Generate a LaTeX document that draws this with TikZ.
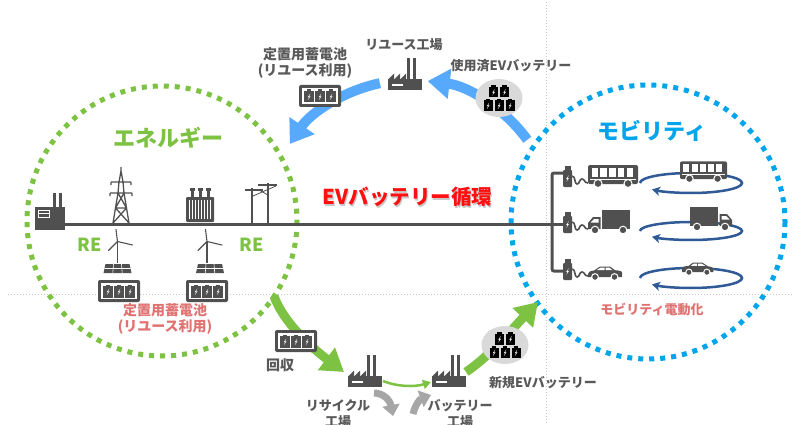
\documentclass[tikz,border=0pt]{standalone}
\usepackage{fontspec}
\setmainfont{Noto Sans CJK JP}
\usetikzlibrary{arrows.meta}

\definecolor{icon}{HTML}{505050}
\definecolor{enegreen}{HTML}{7DC242}
\definecolor{mobblue}{HTML}{00A5EB}
\definecolor{flowblue}{HTML}{57A9FB}
\definecolor{orbitblue}{HTML}{2F5A96}
\definecolor{labelgray}{HTML}{595959}
\definecolor{pinklabel}{HTML}{E07272}
\definecolor{guide}{HTML}{C8C8C8}
\definecolor{disc}{HTML}{D9D9D9}
\definecolor{recgray}{HTML}{A6A6A6}
\definecolor{cyclered}{HTML}{FF1010}

\tikzset{
  % small white lightning glyph
  bolt/.pic={\fill[white] (1.3,-3.2) -- (-1.3,0.4) -- (0.1,0.4) -- (-1.1,3.2) -- (1.5,-0.5) -- (0.1,-0.5) -- cycle;},
  % single black battery cell
  cell/.pic={
    \fill[black] (-4.5,-4.5) rectangle (4.5,6);
    \fill[black] (-2.2,-6.3) rectangle (2.2,-4.5);
    \pic at (0,0.8) {bolt};
  },
  % five cells stacked 2 + 3
  stack/.pic={
    \foreach \cx/\cy in {-5.5/-6.5, 5.5/-6.5, -11/7, 0/7, 11/7} \pic at (\cx,\cy) {cell};
  },
  % stationary battery pack with three cells
  pack/.pic={
    \fill[icon, rounded corners=2pt] (-21,-11) rectangle (21,11);
    \fill[white] (-18,-8) rectangle (18,8);
    \foreach \x in {-11,0,11} {
      \fill[icon] (\x-4.6,-5) rectangle (\x+4.6,6.5);
      \fill[icon] (\x-2,-6.5) rectangle (\x+2,-5);
      \pic at (\x,0.8) {bolt};
    }
  },
  % factory with sawtooth roof, origin bottom-left
  factory/.pic={
    \fill[icon] (0,0) rectangle (34,-11);
    \foreach \i in {0,1,2} \fill[icon] (\i*6,-10.5) -- (\i*6+6,-16.5) -- (\i*6+6,-10.5) -- cycle;
    \fill[icon] (19,-10.5) rectangle (22,-32);
    \fill[icon] (25,-10.5) rectangle (28,-32);
    \fill[white] (4,-6) rectangle (15,-4);
  },
  % power plant, origin bottom-left
  plant/.pic={
    \fill[icon] (0,0) rectangle (30,-23);
    \fill[icon] (18,-22) rectangle (21,-37);
    \fill[icon] (24,-22) rectangle (27,-37);
    \draw[white, line width=0.8pt] (3,-20) rectangle (14,-13) (3,-16.5) -- (14,-16.5);
  },
  % lattice transmission tower, origin at base centre
  tower/.pic={
    \draw[icon, line width=1.3pt, line join=round]
      (-8,0) -- (-3,-30) -- (-2,-41) -- (0,-52) -- (2,-41) -- (3,-30) -- (8,0)
      (0,-52) -- (0,-56)
      (-11,-30) -- (11,-30) (-10,-41) -- (10,-41)
      (-11,-30) -- (-11,-27) (11,-30) -- (11,-27) (-10,-41) -- (-10,-38) (10,-41) -- (10,-38)
      (-8,0) -- (5.5,-15) (8,0) -- (-5.5,-15) (-5.5,-15) -- (5.5,-15)
      (-5.5,-15) -- (3,-30) (5.5,-15) -- (-3,-30);
  },
  % oil transformer, origin at base centre
  transformer/.pic={
    \foreach \x in {-8,0,8} {
      \fill[icon] (\x-1.5,-33) rectangle (\x+1.5,-25);
      \fill[icon] (\x-2.5,-35) rectangle (\x+2.5,-32.5);
    }
    \fill[icon, rounded corners=1pt] (-14,-1) rectangle (14,-26);
    \foreach \x in {-11,-8,...,11} \draw[white, line width=0.8pt] (\x,-4) -- (\x,-23);
  },
  % wind turbine, origin at hub
  turbine/.pic={
    \draw[icon, line width=1.4pt] (0,0) -- (0,21);
    \draw[icon, line width=1.1pt, line cap=round] (0,0) -- (-1.5,-12) (0,0) -- (-9,9) (0,0) -- (15,3.5);
  },
  % solar panel, origin top centre
  panel/.pic={
    \fill[icon] (-12,0) -- (12,0) -- (14,9) -- (-14,9) -- cycle;
    \draw[white, line width=0.6pt] (-13,4.5) -- (13,4.5) (-4,0) -- (-4.7,9) (4,0) -- (4.7,9);
  },
  % charging post with cable, origin bottom-left
  station/.pic={
    \fill[icon, rounded corners=1pt] (0,0) rectangle (9,-17);
    \fill[icon] (1.5,-16) rectangle (7.5,-21);
    \pic at (4.5,-8.5) {bolt};
    \draw[icon, line width=1.6pt] (9,-11) .. controls (13,-11) and (11,-3) .. (14,-3)
      .. controls (17,-3) and (16,-8) .. (19,-8) .. controls (22,-8) and (21,-4) .. (25,-4);
  },
  % vehicles, origin bottom-left, facing right
  bus/.pic={
    \fill[icon, rounded corners=2pt] (0,-3) rectangle (50,-22);
    \foreach \i in {0,...,4} \fill[white] (3.5+\i*8.8,-19.5) rectangle (10+\i*8.8,-10.5);
    \fill[white] (2,-8) rectangle (48,-7);
    \fill[icon, draw=white, line width=1pt] (10,-3.5) circle[radius=4];
    \fill[icon, draw=white, line width=1pt] (40,-3.5) circle[radius=4];
  },
  truck/.pic={
    \fill[icon] (0,-5) rectangle (28,-24);
    \fill[icon] (29.5,-5) -- (29.5,-17) -- (37,-17) -- (42,-11) -- (42,-5) -- cycle;
    \fill[white] (31.5,-15) -- (36,-15) -- (39.5,-11.5) -- (31.5,-11.5) -- cycle;
    \fill[icon, draw=white, line width=1pt] (7,-4) circle[radius=3.8];
    \fill[icon, draw=white, line width=1pt] (35,-4) circle[radius=3.8];
  },
  car/.pic={
    \fill[icon] (0,-3) -- (0,-7.5) .. controls (0,-9) and (3,-9.5) .. (7,-9.8) -- (12,-13.5) -- (22,-13.5)
      -- (28,-9.5) .. controls (32,-9) and (34,-8) .. (34,-6) -- (34,-3) -- cycle;
    \fill[white] (12.5,-12.3) -- (16.5,-12.3) -- (16.5,-9.8) -- (9.5,-9.8) -- cycle;
    \fill[white] (17.5,-12.3) -- (21.5,-12.3) -- (25.5,-9.8) -- (17.5,-9.8) -- cycle;
    \fill[icon, draw=white, line width=1pt] (7.5,-3) circle[radius=3.4];
    \fill[icon, draw=white, line width=1pt] (27,-3) circle[radius=3.4];
  },
  ring/.style={line width=5pt, dash pattern=on 5pt off 6pt},
  guideline/.style={guide, line width=1pt, dash pattern=on 1pt off 2pt},
  gridline/.style={icon, line width=3pt},
  orbit/.style={orbitblue, line width=2.5pt, -{Stealth[length=8pt,width=9pt,inset=2pt]}},
  bluearrow/.style={flowblue, line width=10pt, -{Triangle[length=22pt,width=29pt]}},
  greenarrow/.style={enegreen, line width=9pt, -{Triangle[length=22pt,width=27pt]}},
  grayarrow/.style={recgray, line width=7pt, -{Triangle[length=11pt,width=17pt]}},
  graylbl/.style={text=labelgray, font=\bfseries\fontsize{13}{16}\selectfont, align=center, inner sep=0pt},
  pinklbl/.style={text=pinklabel, font=\bfseries\fontsize{13}{16}\selectfont, align=center, inner sep=0pt},
  titletext/.style={font=\bfseries\fontsize{22}{26}\selectfont, inner sep=0pt},
}

\begin{document}
\begin{tikzpicture}[x=1pt,y=-1pt]
\fill[white] (0,0) rectangle (792,425);
\useasboundingbox (0,0) rectangle (792,425);

% layout guides
\draw[guideline] (8,294) -- (792,294);
\draw[guideline] (546,2) -- (546,425);

% the two domains
\draw[ring, enegreen] (162,221) circle[radius=135];
\draw[ring, mobblue] (648,222) circle[radius=137];

% power grid line and the branch to the chargers
\coordinate (gridW) at (60,224);
\coordinate (gridE) at (552,224);
\coordinate (brTop) at (563,173);
\coordinate (brMid) at (563,224);
\coordinate (brBot) at (563,271);
\draw[gridline] (gridW) -- (gridE) -- (brMid);
\draw[gridline, rounded corners=2pt] (brTop) -- (552,173) -- (552,271) -- (brBot);

% energy-side equipment
\pic (plant) at (35,230) {plant};
\pic (tower) at (121,223) {tower};
\pic (trafo) at (200,223) {transformer};
\draw[icon, line width=2.5pt] (252,188) -- (252,223) (268,183) -- (268,223);
\draw[icon, line width=1.8pt] (245,190) -- (263,190) (258,185) -- (277,185);
\draw[icon, line width=0.8pt] (253,196) -- (276,186) (259,190) -- (268,195);

\pic (turbineA) at (117.5,241.5) {turbine};
\pic (turbineB) at (207,241.5) {turbine};
\pic (panelA) at (117.5,264) {panel};
\pic (panelB) at (210,264) {panel};
\pic (packA) at (119,291) {pack};
\pic (packB) at (207,291) {pack};

% chargers and parked vehicles
\pic (stationA) at (563,187) {station};
\pic (stationB) at (563,233) {station};
\pic (stationC) at (563,280) {station};
\pic (busA) at (588,187) {bus};
\pic[xscale=-1] (truckA) at (630,234) {truck};
\pic[xscale=-1] (carA) at (622,280) {car};

% vehicles in service
\draw[orbit] (640,183) arc[start angle=180, end angle=500, x radius=51, y radius=10];
\draw[orbit] (640,231) arc[start angle=180, end angle=500, x radius=51, y radius=9];
\draw[orbit] (640,278) arc[start angle=180, end angle=500, x radius=51, y radius=10];
\pic[scale=0.94] (busB) at (680,182) {bus};
\pic (truckB) at (690,231) {truck};
\pic[scale=0.92] (carB) at (682,275) {car};

% reuse path
\coordinate (reuseStart) at (527.3,139.8);
\coordinate (reuseIn) at (427.7,81.1);
\coordinate (reuseOut) at (379.9,83.2);
\coordinate (reuseEnd) at (289.8,143.9);
\draw[bluearrow] (reuseStart) .. controls (503.7,107.3) and (467.6,86.0) .. (reuseIn);
\draw[bluearrow] (reuseOut) .. controls (343.1,91.0) and (310.8,112.7) .. (reuseEnd);

% recycle path
\coordinate (collectStart) at (274,296);
\coordinate (collectEnd) at (344,372);
\coordinate (recycleOut) at (383,381);
\coordinate (batteryIn) at (431,382);
\coordinate (newStart) at (466,372);
\coordinate (newEnd) at (538,302);
\draw[greenarrow] (collectStart) .. controls (283,322) and (312,348) .. (collectEnd);
\draw[enegreen, line width=2.5pt, -{Triangle[length=8pt,width=9pt]}] (recycleOut) .. controls (398,387) and (415,387) .. (batteryIn);
\draw[greenarrow] (newStart) .. controls (490,356) and (515,326) .. (newEnd);
\draw[grayarrow] (374,393) .. controls (383,393) and (390,400) .. (393,416);
\draw[grayarrow] (413,414) .. controls (415,405) and (420,399) .. (431,395);

% factories
\pic (reuseFactory) at (388,90) {factory};
\pic (recycleFactory) at (348,387) {factory};
\pic (batteryFactory) at (432,387) {factory};

% battery stacks and packs on the loop
\fill[disc] (499,98) ellipse[x radius=23.5, y radius=19];
\pic (usedStack) at (499,98) {stack};
\fill[disc] (505,345) ellipse[x radius=23.5, y radius=19];
\pic (newStack) at (505,345) {stack};
\pic (packTop) at (320,96) {pack};
\pic (packCollect) at (296,341) {pack};

% titles
\node[titletext, text=enegreen] (energyTitle) at (168,138) {エネルギー};
\node[titletext, text=mobblue] (mobilityTitle) at (652,131) {モビリティ};
\node[titletext, text=black, opacity=0.22, font=\bfseries\fontsize{20.5}{24}\selectfont] (cycleShadow) at (408.6,198.6) {EVバッテリー循環};
\node[titletext, text=cyclered, font=\bfseries\fontsize{20.5}{24}\selectfont] (cycleTitle) at (407.5,197) {EVバッテリー循環};
\node[titletext, text=enegreen, font=\bfseries\fontsize{18}{20}\selectfont] (reA) at (90,245) {RE};
\node[titletext, text=enegreen, font=\bfseries\fontsize{18}{20}\selectfont] (reB) at (252,245) {RE};

% labels
\node[graylbl, font=\bfseries\fontsize{14}{16.5}\selectfont] (stationTop) at (305,63) {定置用蓄電池\\(リユース利用)};
\node[graylbl] (reuseLbl) at (404,45) {リユース工場};
\node[graylbl] (usedLbl) at (511,66) {使用済EVバッテリー};
\node[graylbl, font=\bfseries\fontsize{14}{16}\selectfont] (collectLbl) at (280,365) {回収};
\node[graylbl] (recycleLbl) at (338,414) {リサイクル\\工場};
\node[graylbl] (batteryLbl) at (460,414) {バッテリー\\工場};
\node[graylbl] (newLbl) at (543,383) {新規EVバッテリー};
\node[pinklbl] (electricLbl) at (652,309) {モビリティ電動化};
\node[pinklbl, font=\bfseries\fontsize{14}{16}\selectfont] (stationLbl) at (165,319) {定置用蓄電池\\(リユース利用)};
\end{tikzpicture}
\end{document}
